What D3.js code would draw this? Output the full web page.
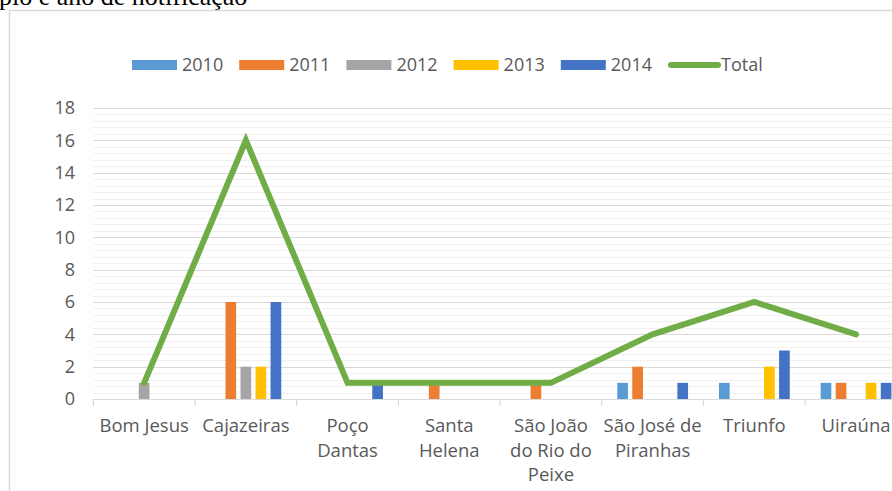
<!DOCTYPE html>
<html>
<head>
<meta charset="utf-8">
<script src="https://cdn.jsdelivr.net/npm/d3@7"></script>
<style>
  html, body { margin: 0; padding: 0; background: #fff; overflow: hidden; }
  svg { display: block; }
  text { font-family: "Open Sans", sans-serif; fill: #595959; }
</style>
</head>
<body>
<svg id="chart" width="892" height="491"></svg>
<script>
"use strict"

/****** DATA ******/
const categories = ['Bom Jesus', 'Cajazeiras', 'Poço Dantas', 'Santa Helena', 'São João do Rio do Peixe', 'São José de Piranhas', 'Triunfo', 'Uiraúna']
const categoryLines = [['Bom Jesus'], ['Cajazeiras'], ['Poço', 'Dantas'], ['Santa', 'Helena'], ['São João', 'do Rio do', 'Peixe'], ['São José de', 'Piranhas'], ['Triunfo'], ['Uiraúna']]
const years = ['2010', '2011', '2012', '2013', '2014']
const values2010 = [0, 0, 0, 0, 0, 1, 1, 1]
const values2011 = [0, 6, 0, 1, 1, 2, 0, 1]
const values2012 = [1, 2, 0, 0, 0, 0, 0, 0]
const values2013 = [0, 2, 0, 0, 0, 0, 2, 1]
const values2014 = [0, 6, 1, 0, 0, 1, 3, 1]
const totals = [1, 16, 1, 1, 1, 4, 6, 4]
const yTicks = [0, 2, 4, 6, 8, 10, 12, 14, 16, 18]
const titleText = 'pio e ano de notificação'

const seriesValues = [values2010, values2011, values2012, values2013, values2014]
const colors = ['#5B9BD5', '#ED7D31', '#A5A5A5', '#FFC000', '#4472C4']
const totalColor = '#70AD47'

/****** LAYOUT ******/
const svg = d3.select('#chart')
const plot = {left: 93.3, top: 108, bottom: 399, band: 101.7}

const x = d3.scaleBand()
  .domain(categories)
  .range([plot.left, plot.left + plot.band * categories.length])
const x1 = d3.scaleBand()
  .domain(years)
  .range([x.bandwidth() / 2 - 35.4, x.bandwidth() / 2 + 35.4])
  .paddingInner(0.29)
const y = d3.scaleLinear().domain([0, 18]).range([plot.bottom, plot.top])

// title fragment cut at the top, and the chart frame
svg.append('text')
  .attr('x', -1).attr('y', 5)
  .style('font-family', '"Liberation Serif", "Times New Roman", serif')
  .style('font-size', '26px')
  .style('fill', '#000')
  .text(titleText)
svg.append('rect')
  .attr('x', 9.5).attr('y', 10.5)
  .attr('width', 900).attr('height', 500)
  .attr('fill', 'none')
  .attr('stroke', '#d9d9d9')
  .attr('stroke-width', 1.5)

// gridlines: minor every 0.4, major every 2
const minor = d3.range(0, 18.01, 0.4).filter(v => Math.abs(v / 2 - Math.round(v / 2)) > 1e-6)
svg.append('g').selectAll('line')
  .data(minor)
  .enter().append('line')
    .attr('x1', plot.left).attr('x2', 892)
    .attr('y1', d => Math.round(y(d)) + 0.5).attr('y2', d => Math.round(y(d)) + 0.5)
    .attr('stroke', '#f0f0f0')
svg.append('g').selectAll('line')
  .data(yTicks.filter(v => v > 0))
  .enter().append('line')
    .attr('x1', plot.left).attr('x2', 892)
    .attr('y1', d => Math.round(y(d)) + 0.5).attr('y2', d => Math.round(y(d)) + 0.5)
    .attr('stroke', '#d9d9d9')
    .attr('stroke-width', 1.2)

// y labels
svg.append('g').selectAll('text')
  .data(yTicks)
  .enter().append('text')
    .attr('x', 75).attr('y', d => y(d))
    .attr('dy', '0.36em')
    .attr('text-anchor', 'end')
    .style('font-size', '18px')
    .text(d => d)

// bars
const groups = svg.append('g').selectAll('g')
  .data(categories)
  .enter().append('g')
    .attr('transform', c => `translate(${x(c)},0)`)
groups.selectAll('rect')
  .data((c, i) => years.map((yr, s) => ({yr, s, v: seriesValues[s][i]})).filter(d => d.v > 0))
  .enter().append('rect')
    .attr('x', d => x1(d.yr))
    .attr('width', x1.bandwidth())
    .attr('y', d => y(d.v))
    .attr('height', d => y(0) - y(d.v))
    .attr('fill', d => colors[d.s])

// x axis line and ticks
svg.append('line')
  .attr('x1', plot.left).attr('x2', 892)
  .attr('y1', plot.bottom + 0.5).attr('y2', plot.bottom + 0.5)
  .attr('stroke', '#d9d9d9').attr('stroke-width', 1.2)
svg.append('g').selectAll('line')
  .data(categories)
  .enter().append('line')
    .attr('x1', c => x(c)).attr('x2', c => x(c))
    .attr('y1', plot.bottom).attr('y2', plot.bottom + 7)
    .attr('stroke', '#d9d9d9').attr('stroke-width', 1.2)

// category labels
const labels = svg.append('g').selectAll('text')
  .data(categories)
  .enter().append('text')
    .attr('text-anchor', 'middle')
    .style('font-size', '18.5px')
    .attr('transform', c => `translate(${x(c) + x.bandwidth() / 2},432)`)
labels.selectAll('tspan')
  .data((c, i) => categoryLines[i])
  .enter().append('tspan')
    .attr('x', 0)
    .attr('y', (d, i) => i * 24.5)
    .text(d => d)

// total line
const line = d3.line()
  .x((d, i) => x(categories[i]) + x.bandwidth() / 2)
  .y(d => y(d))
svg.append('path')
  .datum(totals)
  .attr('d', line)
  .attr('fill', 'none')
  .attr('stroke', totalColor)
  .attr('stroke-width', 6)
  .attr('stroke-linecap', 'round')
  .attr('stroke-linejoin', 'miter')

// legend
const legend = svg.append('g').attr('transform', 'translate(132,65)')
const items = legend.selectAll('g')
  .data(years)
  .enter().append('g')
    .attr('transform', (d, i) => `translate(${i * 107.2},0)`)
items.append('rect')
  .attr('x', 0).attr('y', -5)
  .attr('width', 45).attr('height', 10)
  .attr('fill', (d, i) => colors[i])
items.append('text')
  .attr('x', 50).attr('dy', '0.36em')
  .style('font-size', '18px')
  .text(d => d)
const totalItem = legend.append('g').attr('transform', `translate(${years.length * 107.2},0)`)
totalItem.append('line')
  .attr('x1', 3).attr('x2', 50)
  .attr('stroke', totalColor)
  .attr('stroke-width', 6)
  .attr('stroke-linecap', 'round')
totalItem.append('text')
  .attr('x', 53).attr('dy', '0.36em')
  .style('font-size', '18px')
  .text('Total')
</script>
</body>
</html>
